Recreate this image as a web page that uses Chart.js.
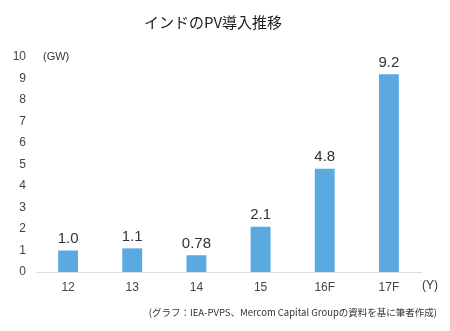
<!DOCTYPE html>
<html lang="ja">
<head>
  <meta charset="UTF-8" />
  <title>インドのPV導入推移</title>
  <script src="https://cdn.jsdelivr.net/npm/chart.js"></script>
  <style>
    html, body { margin: 0; padding: 0; background: #fff; }
    #wrap { width: 450px; height: 331px; position: relative; }
  </style>
</head>
<body>
  <div id="wrap"><canvas id="pvChart"></canvas></div>
  <script>
    const years = ['12', '13', '14', '15', '16F', '17F'];
    const values = [1.0, 1.1, 0.78, 2.1, 4.8, 9.2];
    const valueLabels = ['1.0', '1.1', '0.78', '2.1', '4.8', '9.2'];
    const title = 'インドのPV導入推移';
    const unitY = '(GW)';
    const unitX = '(Y)';
    const note = '(グラフ：IEA-PVPS、Mercom Capital Groupの資料を基に筆者作成)';

    const fontFam = '"Liberation Sans", Arial, "Noto Sans CJK JP", sans-serif';
    const jpFam = '"Noto Sans CJK JP", "Liberation Sans", sans-serif';

    // titles, units, footnote and value labels
    const textPlugin = {
      id: 'texts',
      afterDatasetsDraw(chart) {
        const ctx = chart.ctx;
        const area = chart.chartArea;
        ctx.save();
        ctx.fillStyle = '#222';
        ctx.font = '15px ' + jpFam;
        ctx.textAlign = 'center';
        ctx.textBaseline = 'middle';
        ctx.fillText(title, 213, 22);

        ctx.fillStyle = '#333';
        ctx.font = '11px ' + fontFam;
        ctx.textAlign = 'left';
        ctx.fillText(unitY, 43, 57);
        ctx.font = '12px ' + fontFam;
        ctx.fillText(unitX, 422, 286);

        ctx.font = '9.5px ' + jpFam;
        ctx.textAlign = 'right';
        ctx.fillText(note, 437, 312);

        ctx.fillStyle = '#333';
        ctx.font = '15px ' + fontFam;
        ctx.textAlign = 'center';
        ctx.textBaseline = 'bottom';
        chart.getDatasetMeta(0).data.forEach((bar, i) => {
          ctx.fillText(valueLabels[i], bar.x, bar.y - 4);
        });
        ctx.restore();
      }
    };

    new Chart(document.getElementById('pvChart'), {
      type: 'bar',
      data: {
        labels: years,
        datasets: [{
          data: values,
          backgroundColor: '#5aa9e0',
          barPercentage: 0.31,
          categoryPercentage: 1.0
        }]
      },
      options: {
        responsive: true,
        maintainAspectRatio: false,
        animation: false,
        layout: { padding: { top: 57, right: 29, bottom: 0, left: 0 } },
        plugins: { legend: { display: false }, tooltip: { enabled: false }, title: { display: false } },
        scales: {
          x: {
            grid: { display: false, drawTicks: false },
            border: { display: true, color: '#dddddd', width: 1 },
            ticks: { color: '#444', font: { size: 12, family: fontFam }, padding: 8 },
            afterFit(scale) { scale.height = 59; }
          },
          y: {
            min: 0, max: 10,
            grid: { display: false, drawTicks: false },
            border: { display: false },
            ticks: { stepSize: 1, color: '#444', font: { size: 12, family: fontFam }, padding: 10 },
            afterFit(scale) { scale.width = 36; }
          }
        }
      },
      plugins: [textPlugin]
    });
  </script>
</body>
</html>
